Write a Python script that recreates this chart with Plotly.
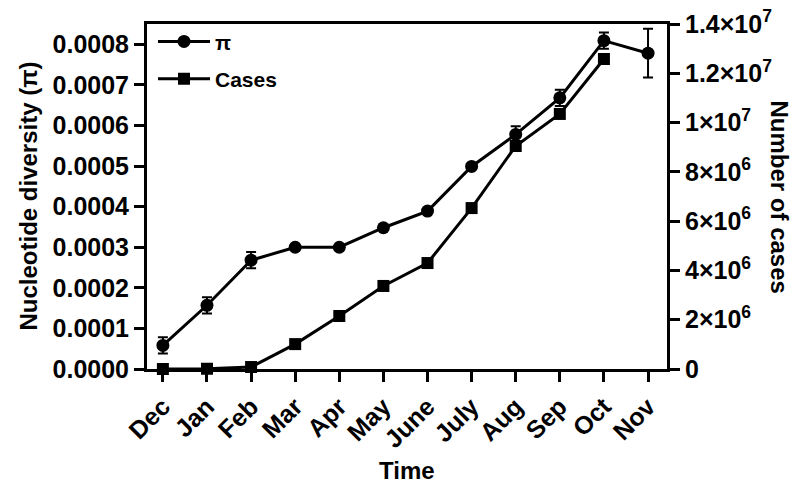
import plotly.graph_objects as go

months = ["Dec", "Jan", "Feb", "Mar", "Apr", "May", "June", "July", "Aug", "Sep", "Oct", "Nov"]
pi_values = [0.000058, 0.000157, 0.000268, 0.000300, 0.000300, 0.000348, 0.000389,
             0.000499, 0.000578, 0.000668, 0.000809, 0.000778]
pi_errors = [0.00002, 0.00002, 0.00002, 0.0, 0.0, 0.0, 0.0, 0.0, 0.00002, 0.00002, 0.00002, 0.00006]
case_months = ["Dec", "Jan", "Feb", "Mar", "Apr", "May", "June", "July", "Aug", "Sep", "Oct"]
case_values = [0, 10000, 80000, 1010000, 2150000, 3370000, 4300000, 6530000, 9050000, 10350000, 12580000]

left_ticks = [0.0, 0.0001, 0.0002, 0.0003, 0.0004, 0.0005, 0.0006, 0.0007, 0.0008]
right_ticks = [0, 2e6, 4e6, 6e6, 8e6, 1e7, 1.2e7, 1.4e7]
right_labels = ["0", "2×10<sup>6</sup>", "4×10<sup>6</sup>", "6×10<sup>6</sup>", "8×10<sup>6</sup>",
                "1×10<sup>7</sup>", "1.2×10<sup>7</sup>", "1.4×10<sup>7</sup>"]

FONT = "Liberation Sans, Arial, sans-serif"
xi = list(range(len(months)))
xc = [months.index(m) for m in case_months]

fig = go.Figure()
fig.add_trace(go.Scatter(
    x=xi, y=pi_values, name="π", mode="lines+markers", legendgroup="a",
    line=dict(color="black", width=3),
    marker=dict(symbol="circle", size=13, color="black"),
    error_y=dict(type="data", array=pi_errors, visible=True, color="black", thickness=2, width=5),
    cliponaxis=False,
))
fig.add_trace(go.Scatter(
    x=xc, y=case_values, name="Cases", mode="lines+markers", yaxis="y2", legendgroup="b",
    line=dict(color="black", width=3),
    marker=dict(symbol="square", size=12, color="black"),
    cliponaxis=False,
))

fig.update_layout(
    width=792, height=483,
    margin=dict(l=147, r=125, t=24, b=114, autoexpand=False),
    paper_bgcolor="white", plot_bgcolor="white",
    font=dict(family=FONT, size=25, color="black", weight="bold"),
    showlegend=True,
    legend=dict(x=6 / 520, y=1.008, xanchor="left", yanchor="top", bgcolor="rgba(0,0,0,0)",
                font=dict(size=21, family=FONT, weight="bold"), tracegroupgap=7,
                itemwidth=52),
    xaxis=dict(
        range=[-0.36, 11.43], tickmode="array", tickvals=xi, ticktext=months,
        tickangle=-45, showline=True, linecolor="black", linewidth=3, mirror=True,
        ticks="outside", ticklen=10, tickwidth=3, tickcolor="black", showgrid=False,
        zeroline=False, automargin=False, tickfont=dict(size=25, family=FONT, weight="bold"),
    ),
    yaxis=dict(
        range=[0, 0.00085], tickmode="array", tickvals=left_ticks, tickformat=".4f",
        showline=True, linecolor="black", linewidth=3, ticks="outside", ticklen=10,
        tickwidth=3, tickcolor="black", showgrid=False, zeroline=False, automargin=False,
        tickfont=dict(size=25, family=FONT, weight="bold"),
    ),
    yaxis2=dict(
        range=[0, 1.4e7], overlaying="y", side="right", tickmode="array",
        tickvals=right_ticks, ticktext=right_labels, automargin=False,
        showline=True, linecolor="black", linewidth=3, ticks="outside", ticklen=10,
        tickwidth=3, tickcolor="black", showgrid=False, zeroline=False,
        tickfont=dict(size=25, family=FONT, weight="bold"),
    ),
    annotations=[
        dict(text="Number of cases", textangle=90, xref="paper", yref="paper",
             x=1.0, xshift=112, y=0.5, xanchor="center", yanchor="middle", showarrow=False,
             borderpad=0, font=dict(size=24, family=FONT, weight="bold")),
        dict(text="Nucleotide diversity (π)", textangle=-90, xref="paper", yref="paper",
             x=0.0, xshift=-119, y=0.5, xanchor="center", yanchor="middle", showarrow=False,
             borderpad=0, font=dict(size=24, family=FONT, weight="bold")),
        dict(text="Time", xref="paper", yref="paper",
             x=0.5, y=0.0, yshift=-101, xanchor="center", yanchor="middle", showarrow=False,
             borderpad=0, font=dict(size=24, family=FONT, weight="bold")),
    ],
)

fig.write_html("out.html")
